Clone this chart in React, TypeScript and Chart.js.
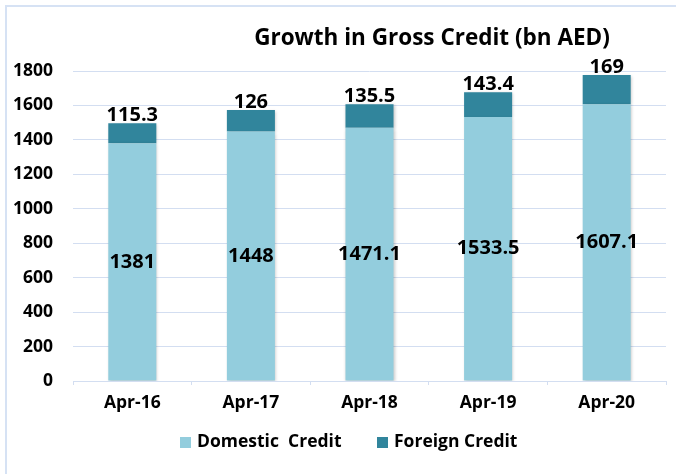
import React, { useEffect, useRef } from "react";
import { Chart, registerables } from "chart.js";

Chart.register(...registerables);

const categories = ["Apr-16", "Apr-17", "Apr-18", "Apr-19", "Apr-20"];
const domesticCredit = [1381, 1448, 1471.1, 1533.5, 1607.1];
const foreignCredit = [115.3, 126, 135.5, 143.4, 169];
const seriesNames = ["Domestic  Credit", "Foreign Credit"];
const titleText = "Growth in Gross Credit (bn AED)";
const yMin = 0;
const yMax = 1800;
const yStep = 200;

const DOMESTIC = "#93cddd";
const FOREIGN = "#31859c";
const GRID = "#d3def1";
const FONT = "'Open Sans', 'Noto Sans', sans-serif";

const decorPlugin = {
  id: "decor",
  beforeDatasetsDraw(chart: any) {
    const ctx = chart.ctx;
    ctx.save();
    ctx.shadowColor = "rgba(0,0,0,0.22)";
    ctx.shadowBlur = 3;
    ctx.shadowOffsetX = 1;
    ctx.shadowOffsetY = 1;
  },
  afterDatasetsDraw(chart: any) {
    chart.ctx.restore();
  },
  afterDraw(chart: any) {
    const ctx = chart.ctx;
    ctx.save();
    // frame
    ctx.strokeStyle = "#d6e2f4";
    ctx.lineWidth = 2;
    ctx.beginPath();
    ctx.moveTo(6, 474);
    ctx.lineTo(6, 6);
    ctx.lineTo(676, 6);
    ctx.stroke();

    // title
    ctx.fillStyle = "#000";
    ctx.font = `bold 22.5px ${FONT}`;
    ctx.textAlign = "center";
    ctx.textBaseline = "middle";
    ctx.fillText(titleText, 432, 39);

    // data labels
    ctx.font = `bold 20px ${FONT}`;
    const m0 = chart.getDatasetMeta(0);
    const m1 = chart.getDatasetMeta(1);
    m0.data.forEach((el: any, i: number) => {
      ctx.textBaseline = "middle";
      ctx.fillText(String(domesticCredit[i]), el.x, (el.y + el.base) / 2);
    });
    m1.data.forEach((el: any, i: number) => {
      ctx.textBaseline = "alphabetic";
      ctx.fillText(String(foreignCredit[i]), el.x, el.y - 2);
    });

    // legend
    ctx.font = `bold 17.5px ${FONT}`;
    ctx.textAlign = "left";
    ctx.textBaseline = "middle";
    const items = [
      { x: 180, color: DOMESTIC, text: seriesNames[0] },
      { x: 377, color: FOREIGN, text: seriesNames[1] },
    ];
    items.forEach((it) => {
      ctx.fillStyle = it.color;
      ctx.fillRect(it.x, 437, 11, 11);
      ctx.fillStyle = "#000";
      ctx.fillText(it.text, it.x + 17, 442);
    });
    ctx.restore();
  },
};

export default function App() {
  const ref = useRef<HTMLCanvasElement>(null);
  useEffect(() => {
    if (!ref.current) return;
    const chart = new Chart(ref.current, {
      type: "bar",
      data: {
        labels: categories,
        datasets: [
          {
            label: seriesNames[0],
            data: domesticCredit,
            backgroundColor: DOMESTIC,
            barPercentage: 0.405,
            categoryPercentage: 1,
          },
          {
            label: seriesNames[1],
            data: foreignCredit,
            backgroundColor: FOREIGN,
            barPercentage: 0.405,
            categoryPercentage: 1,
          },
        ],
      },
      options: {
        responsive: false,
        animation: false,
        layout: { padding: { top: 71, left: 0, right: 10, bottom: 0 } },
        plugins: {
          legend: { display: false },
          title: { display: false },
          tooltip: { enabled: false },
        },
        scales: {
          x: {
            stacked: true,
            afterFit: (s: any) => {
              s.height = 93;
            },
            grid: {
              drawOnChartArea: false,
              drawTicks: true,
              tickLength: 4,
              color: GRID,
              offset: true,
            },
            border: { display: true, color: GRID, width: 1 },
            ticks: {
              color: "#000",
              font: { family: FONT, size: 17.5, weight: "bold" },
              padding: 8,
            },
          },
          y: {
            stacked: true,
            min: yMin,
            max: yMax,
            afterFit: (s: any) => {
              s.width = 73;
            },
            grid: { color: GRID, lineWidth: 1, drawTicks: false },
            border: { display: false },
            ticks: {
              stepSize: yStep,
              color: "#000",
              padding: 20,
              font: { family: FONT, size: 17.5, weight: "bold" },
              callback: (v: any) => String(v),
            },
          },
        },
      },
      plugins: [decorPlugin],
    });
    return () => chart.destroy();
  }, []);
  return (
    <div style={{ position: "absolute", left: 0, top: 0, width: 676, height: 474, background: "#fff" }}>
      <canvas ref={ref} width={676} height={474} style={{ display: "block" }} />
    </div>
  );
}
